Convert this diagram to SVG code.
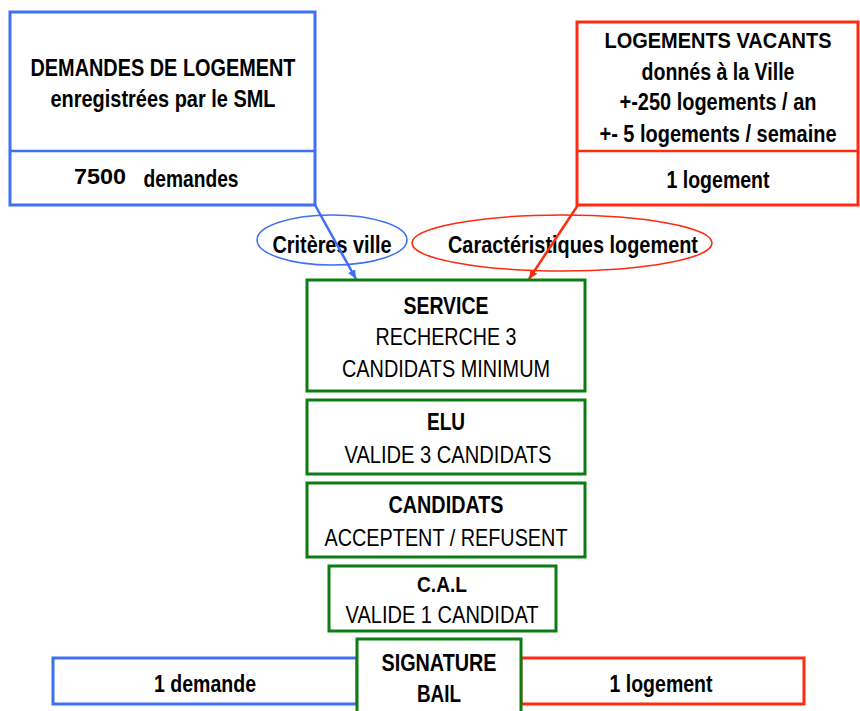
<svg xmlns="http://www.w3.org/2000/svg" width="860" height="711" viewBox="0 0 860 711">
<style>
.t{font-family:"Liberation Sans",Arial,sans-serif;font-weight:bold;fill:#000;text-anchor:middle}
.r{font-family:"Liberation Sans",Arial,sans-serif;font-weight:normal;fill:#000;text-anchor:middle}
.blue{fill:#fff;stroke:#3f6ff5;stroke-width:3}
.red{fill:#fff;stroke:#ff2a10;stroke-width:3}
.green{fill:#fff;stroke:#0b7d12;stroke-width:3}
.bl{stroke:#3f6ff5;stroke-width:2.5;fill:none}
.rl{stroke:#ff2a10;stroke-width:2.5;fill:none}
</style>
<defs>
<marker id="ab" markerUnits="userSpaceOnUse" markerWidth="10" markerHeight="10" refX="9" refY="5" orient="auto"><path d="M0,1 L9,5 L0,9 z" fill="#3f6ff5"/></marker>
<marker id="ar" markerUnits="userSpaceOnUse" markerWidth="10" markerHeight="10" refX="9" refY="5" orient="auto"><path d="M0,1 L9,5 L0,9 z" fill="#ff2a10"/></marker>
</defs>
<rect width="860" height="711" fill="#fff"/>

<g id="demandes">
<rect class="blue" x="10" y="12" width="305" height="193"/>
<line class="bl" x1="10" y1="151" x2="315" y2="151"/>
<text class="t" x="163" y="76" font-size="24" textLength="265" lengthAdjust="spacingAndGlyphs">DEMANDES DE LOGEMENT</text>
<text class="t" x="163" y="107" font-size="23" textLength="225" lengthAdjust="spacingAndGlyphs">enregistrées par le SML</text>
<text class="t" x="100" y="184" font-size="22" textLength="52" lengthAdjust="spacingAndGlyphs">7500</text>
<text class="t" x="191" y="187" font-size="23" textLength="95" lengthAdjust="spacingAndGlyphs">demandes</text>
</g>

<g id="logements">
<rect class="red" x="577" y="22" width="281" height="183"/>
<line class="rl" x1="577" y1="151" x2="858" y2="151"/>
<text class="t" x="718" y="48" font-size="22" textLength="227" lengthAdjust="spacingAndGlyphs">LOGEMENTS VACANTS</text>
<text class="t" x="718" y="80" font-size="23" textLength="153" lengthAdjust="spacingAndGlyphs">donnés à la Ville</text>
<text class="t" x="718" y="110" font-size="23" textLength="197" lengthAdjust="spacingAndGlyphs">+-250 logements / an</text>
<text class="t" x="718" y="142" font-size="23" textLength="237" lengthAdjust="spacingAndGlyphs">+- 5 logements / semaine</text>
<text class="t" x="718" y="188" font-size="23" textLength="103" lengthAdjust="spacingAndGlyphs">1 logement</text>
</g>

<g id="criteres">
<ellipse cx="332" cy="240" rx="75" ry="25" fill="#fff" stroke="#3f6ff5" stroke-width="1.5"/>
<text class="t" x="332" y="253" font-size="24" textLength="119" lengthAdjust="spacingAndGlyphs">Critères ville</text>
</g>
<g id="caracteristiques">
<ellipse cx="562" cy="243" rx="150" ry="28" fill="#fff" stroke="#ff2a10" stroke-width="1.5"/>
<text class="t" x="573" y="253" font-size="24" textLength="250" lengthAdjust="spacingAndGlyphs">Caractéristiques logement</text>
</g>

<g id="connectors">
<line class="bl" x1="315" y1="205" x2="356" y2="279" marker-end="url(#ab)"/>
<line class="rl" x1="578" y1="205" x2="529" y2="279" marker-end="url(#ar)"/>
</g>

<g id="service">
<rect class="green" x="307" y="280" width="278" height="111"/>
<text class="t" x="446" y="314" font-size="24" textLength="85" lengthAdjust="spacingAndGlyphs">SERVICE</text>
<text class="r" x="446" y="345" font-size="24" textLength="141" lengthAdjust="spacingAndGlyphs">RECHERCHE 3</text>
<text class="r" x="446" y="377" font-size="24" textLength="208" lengthAdjust="spacingAndGlyphs">CANDIDATS MINIMUM</text>
</g>

<g id="elu">
<rect class="green" x="307" y="400" width="278" height="74"/>
<text class="t" x="446" y="430" font-size="24" textLength="38" lengthAdjust="spacingAndGlyphs">ELU</text>
<text class="r" x="448" y="463" font-size="24" textLength="207" lengthAdjust="spacingAndGlyphs">VALIDE 3 CANDIDATS</text>
</g>

<g id="candidats">
<rect class="green" x="307" y="483" width="278" height="74"/>
<text class="t" x="446" y="513" font-size="24" textLength="115" lengthAdjust="spacingAndGlyphs">CANDIDATS</text>
<text class="r" x="446" y="546" font-size="24" textLength="243" lengthAdjust="spacingAndGlyphs">ACCEPTENT / REFUSENT</text>
</g>

<g id="cal">
<rect class="green" x="329" y="566" width="227" height="65"/>
<text class="t" x="442" y="592" font-size="22" textLength="50" lengthAdjust="spacingAndGlyphs">C.A.L</text>
<text class="r" x="442" y="623" font-size="24" textLength="193" lengthAdjust="spacingAndGlyphs">VALIDE 1 CANDIDAT</text>
</g>

<g id="demande-finale">
<rect class="blue" x="53" y="658" width="304" height="46"/>
<text class="t" x="205" y="692" font-size="24" textLength="102" lengthAdjust="spacingAndGlyphs">1 demande</text>
</g>

<g id="logement-final">
<rect class="red" x="521" y="658" width="283" height="46"/>
<text class="t" x="661" y="692" font-size="24" textLength="103" lengthAdjust="spacingAndGlyphs">1 logement</text>
</g>

<g id="signature">
<rect class="green" x="357" y="639" width="164" height="80"/>
<text class="t" x="439" y="671" font-size="24" textLength="115" lengthAdjust="spacingAndGlyphs">SIGNATURE</text>
<text class="t" x="439" y="702" font-size="24" textLength="44" lengthAdjust="spacingAndGlyphs">BAIL</text>
</g>
</svg>
